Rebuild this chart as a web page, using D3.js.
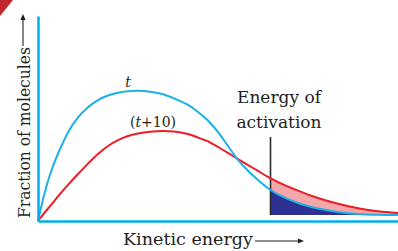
<!DOCTYPE html>
<html>
<head>
<meta charset="utf-8" />
<title>Kinetic energy distribution</title>
<style>
  body { margin: 0; background: #fff; }
  text { font-family: "DejaVu Serif", serif; fill: #231f20; }
</style>
</head>
<body>
<div id="chart"></div>
<script src="https://cdn.jsdelivr.net/npm/d3@7"></script>
<script>
// kinetic energy (arbitrary units)
var energy = [0, 0.5, 1, 1.5, 2, 3, 4, 5, 6, 7, 8, 9, 10, 11, 12, 13, 14, 15, 16, 17, 18, 19, 20, 21, 22, 23, 24, 26, 28, 30, 32, 34, 36];
// fraction of molecules at temperature t
var fractionT = [0, 1.05, 1.95, 2.68, 3.28, 4.32, 5.05, 5.55, 5.90, 6.12, 6.26, 6.33, 6.35, 6.32, 6.24, 6.10, 5.90, 5.66, 5.32, 4.90, 4.34, 3.66, 2.98, 2.45, 2.00, 1.60, 1.30, 0.88, 0.61, 0.44, 0.34, 0.30, 0.29];
// fraction of molecules at temperature t+10
var fractionT10 = [0, 0.31, 0.61, 0.90, 1.20, 1.76, 2.29, 2.80, 3.27, 3.66, 3.95, 4.15, 4.27, 4.34, 4.38, 4.38, 4.34, 4.24, 4.07, 3.88, 3.61, 3.32, 3.02, 2.73, 2.44, 2.15, 1.90, 1.48, 1.12, 0.84, 0.62, 0.47, 0.39];
var tailFloor = 0.29;
var activationEnergy = 23.25;
var activationTop = 4.1;
var seriesLabels = ["t", "(t+10)"];
var activationLabel = ["Energy of", "activation"];
var xTitle = "Kinetic energy";
var yTitle = "Fraction of molecules";

var width = 398, height = 251;
var svg = d3.select("#chart").append("svg").attr("width", width).attr("height", height);

var x = d3.scaleLinear().domain([0, 36]).range([38, 398]);
var y = d3.scaleLinear().domain([0, 10]).range([221, 16]);

var rows = energy.map(function(e, i) {
  return { e: e, t: fractionT[i], t10: fractionT10[i] };
});

// corner ribbon
svg.append("path").attr("d", "M0,0L13,0L0,16Z").attr("fill", "#c1272d");

svg.append("clipPath").attr("id", "tail").append("rect")
  .attr("x", x(activationEnergy)).attr("y", 0)
  .attr("width", width - x(activationEnergy)).attr("height", height);

var curve = d3.curveCatmullRom.alpha(0.5);

svg.append("path").datum(rows)
  .attr("clip-path", "url(#tail)")
  .attr("fill", "#f4a6aa")
  .attr("d", d3.area().curve(curve).x(function(d) { return x(d.e); })
    .y0(function(d) { return y(d.t); }).y1(function(d) { return y(d.t10); }));

svg.append("path").datum(rows)
  .attr("clip-path", "url(#tail)")
  .attr("fill", "#2e3192")
  .attr("d", d3.area().curve(curve).x(function(d) { return x(d.e); })
    .y0(y(tailFloor)).y1(function(d) { return y(d.t); }));

// activation energy marker
svg.append("line")
  .attr("x1", x(activationEnergy)).attr("x2", x(activationEnergy))
  .attr("y1", y(activationTop)).attr("y2", y(tailFloor))
  .attr("stroke", "#2b2b2b").attr("stroke-width", 1.6);

svg.append("path").datum(rows)
  .attr("fill", "none").attr("stroke", "#ed1c24").attr("stroke-width", 2)
  .attr("d", d3.line().curve(curve).x(function(d) { return x(d.e); }).y(function(d) { return y(d.t10); }));

svg.append("path").datum(rows)
  .attr("fill", "none").attr("stroke", "#1ab0e8").attr("stroke-width", 2)
  .attr("d", d3.line().curve(curve).x(function(d) { return x(d.e); }).y(function(d) { return y(d.t); }));

// axes, bare lines
svg.append("g").attr("transform", "translate(0," + y(0) + ")")
  .call(d3.axisBottom(x).tickValues([]).tickSizeOuter(0));
svg.append("g").attr("transform", "translate(" + x(0) + ",0)")
  .call(d3.axisLeft(y).tickValues([]).tickSizeOuter(0));
svg.selectAll(".domain").attr("stroke", "#00aeef").attr("stroke-width", 2.5);

// curve labels
svg.append("text").attr("x", 128).attr("y", 87).attr("text-anchor", "middle")
  .attr("font-size", 14).attr("font-style", "italic").text(seriesLabels[0]);
var lbl = svg.append("text").attr("x", 153).attr("y", 127).attr("text-anchor", "middle").attr("font-size", 14);
lbl.append("tspan").text("(");
lbl.append("tspan").attr("font-style", "italic").text("t");
lbl.append("tspan").text("+10)");

svg.selectAll(".act").data(activationLabel).enter().append("text")
  .attr("class", "act")
  .attr("x", 279).attr("y", function(d, i) { return 103 + i * 25; })
  .attr("text-anchor", "middle").attr("font-size", 17)
  .text(function(d) { return d; });

// axis titles with arrows
function arrow(x1, y1, x2, y2) {
  var a = Math.atan2(y2 - y1, x2 - x1), h = 6, w = 2.6;
  svg.append("line").attr("x1", x1).attr("y1", y1)
    .attr("x2", x2 - h * Math.cos(a)).attr("y2", y2 - h * Math.sin(a))
    .attr("stroke", "#231f20").attr("stroke-width", 1.1);
  var bx = x2 - h * Math.cos(a), by = y2 - h * Math.sin(a);
  svg.append("path").attr("fill", "#231f20").attr("d",
    "M" + x2 + "," + y2 +
    "L" + (bx + w * Math.sin(a)) + "," + (by - w * Math.cos(a)) +
    "L" + (bx - w * Math.sin(a)) + "," + (by + w * Math.cos(a)) + "Z");
}

svg.append("text").attr("x", 123).attr("y", 245).attr("font-size", 17)
  .attr("textLength", 130).attr("lengthAdjust", "spacingAndGlyphs").text(xTitle);
arrow(255, 241, 304, 241);

svg.append("text").attr("transform", "translate(30,218) rotate(-90)")
  .attr("font-size", 17).attr("textLength", 171).attr("lengthAdjust", "spacingAndGlyphs").text(yTitle);
arrow(23, 46, 23, 14);
</script>
</body>
</html>
